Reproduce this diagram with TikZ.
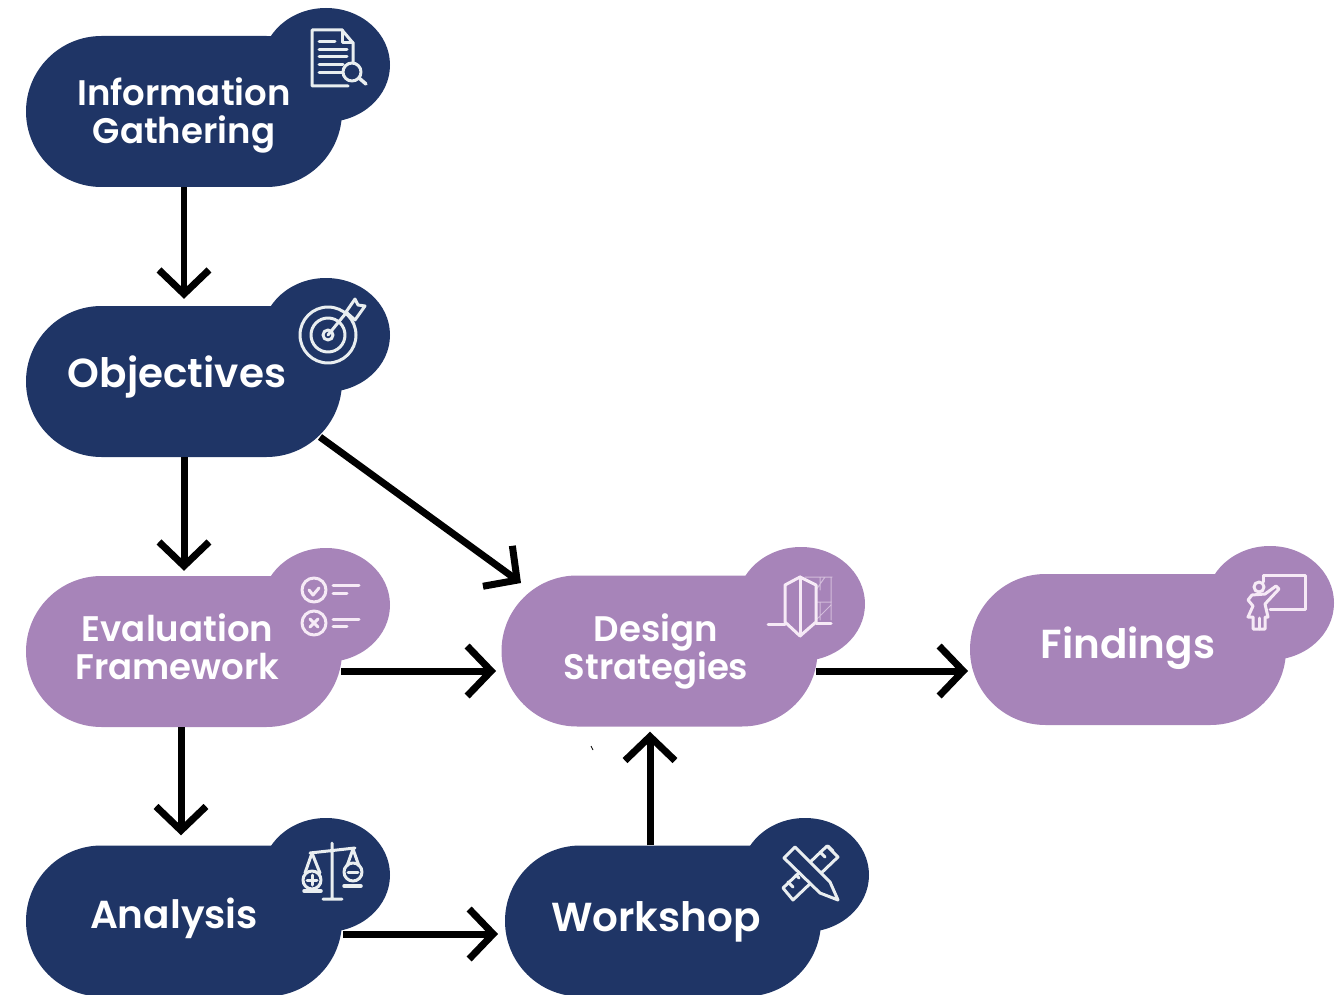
\documentclass[tikz,border=0pt]{standalone}
\usepackage{fontspec}
\setmainfont{Poppins}[BoldFont={Poppins SemiBold}]
\usetikzlibrary{arrows.meta,shapes.misc,shapes.geometric,calc}
\definecolor{navy}{HTML}{1F3566}
\definecolor{plum}{HTML}{A784B9}
\definecolor{iconlight}{HTML}{E9EEF0}
\definecolor{iconpink}{HTML}{F6EAF6}
\tikzset{
  body/.style={rounded rectangle,minimum width=316pt,minimum height=151pt,inner sep=0pt,draw=none},
  lobe/.style={ellipse,minimum width=128pt,minimum height=114pt,inner sep=0pt,draw=none},
  dark/.style={fill=navy},
  light/.style={fill=plum},
  label/.style={text=white,font=\bfseries,align=center,inner sep=0pt},
  small label/.style={label,font=\fontsize{35.5}{38}\selectfont\bfseries},
  large label/.style={label,font=\fontsize{40.5}{44}\selectfont\bfseries},
  mid label/.style={label,font=\fontsize{39}{42}\selectfont\bfseries},
  flow/.style={draw=black,line width=7pt,-{Straight Barb[length=24pt,width=50pt,line width=7pt]}},
  icon/.style={line width=3pt,line join=round,line cap=round},
  faint/.style={line width=1pt,draw=iconpink,opacity=.55},
}
\begin{document}
\begin{tikzpicture}[x=1pt,y=-1pt]
\useasboundingbox (0,0) rectangle (1339,995);
% lobes behind the bodies
\node[lobe,dark]  (infoL) at (326,65) {};
\node[lobe,dark]  (objL)  at (326,335) {};
\node[lobe,light] (evalL) at (326,605) {};
\node[lobe,dark]  (analL) at (326,875) {};
\node[lobe,light] (desL)  at (801,604) {};
\node[lobe,light] (finL)  at (1270,603) {};
\node[lobe,dark]  (workL) at (805,875) {};
% bodies
\node[body,dark]  (info) at (184,111.5) {};
\node[body,dark]  (obj)  at (184,381.5) {};
\node[body,light] (eval) at (184,651.5) {};
\node[body,dark]  (anal) at (184,921) {};
\node[body,light] (des)  at (659.5,651) {};
\node[body,light] (fin)  at (1128,649.5) {};
\node[body,dark]  (work) at (663,921) {};
% labels
\node[small label] (infoT) at (184,115) {Information\\Gathering};
\node[large label] (objT)  at (177,377) {Objectives};
\node[small label] (evalT) at (177.5,647) {Evaluation\\Framework};
\node[mid label] (analT) at (174,918) {Analysis};
\node[small label] (desT)  at (656,651) {Design\\Strategies};
\node[large label] (finT)  at (1128,648) {Findings};
\node[large label] (workT) at (656,922) {Workshop};
% connectors
\draw[flow,line width=6pt,shorten >=7pt] (info.south) -- (obj.north);
\draw[flow,shorten >=5pt] (obj.south) -- (eval.north);
\draw[flow] ($(obj.center)+(136,55.5)$) -- ($(des.center)+(-138.5,-68)$);
\draw[flow] ($(eval.center)+(157,19.5)$) -- ($(des.center)+(-163.5,20)$);
\draw[flow] ($(eval.south)+(-3,0)$) -- ($(anal.north)+(-3,-10)$);
\draw[flow] ($(anal.center)+(159,13)$) -- ($(work.center)+(-165,13)$);
\draw[flow] ($(work.north)+(-13,0)$) -- ($(des.south)+(-9.5,5)$);
\draw[flow] ($(des.center)+(156.5,20)$) -- ($(fin.center)+(-160,21.5)$);
\begin{scope}[icon,draw=iconlight]
% icon: document and magnifier
\draw (348,86) -- (312,86) -- (312,30) -- (342,30) -- (353,43) -- (353,63);
\draw (342,30) -- (342,43) -- (353,43);
\draw (319,42) -- (335,42) (319,50) -- (347,50) (319,57) -- (347,57) (319,65) -- (343,65) (319,73) -- (342,73);
\draw (352,72) circle[radius=9];
\draw[line width=3.5pt] (359,78) -- (366,84);
% icon: target and arrow
\draw (328,335) circle[radius=28] (328,335) circle[radius=17] (328,335) circle[radius=5];
\draw (328,335) -- (346,313);
\draw (346,312) -- (355,299) -- (358,305) -- (365,306) -- (355,320) -- cycle;
% icon: scales
\draw (332,843) -- (332,898) (323,899) -- (342,899) (310,853) -- (355,848);
\draw (312,880) circle[radius=9] (353,872) circle[radius=9];
\draw (305,873) -- (312,853) -- (320,873) (347,866) -- (353,849) -- (359,866);
\draw[line width=3.5pt] (304,891) -- (321,891) (344,886) -- (361,886);
\draw (307,880) -- (317,880) (312,875) -- (312,885) (348,872) -- (358,872);
% icon: ruler and pencil
\draw (783,888) -- (793,900) -- (838,857) -- (827,846) -- cycle;
\draw (788,882) -- (793,887) (796,875) -- (799,878) (820,852) -- (825,857) (828,846) -- (833,851);
\draw[fill=navy] (784,858) -- (795,847) -- (830,882) -- (838,900) -- (820,893) -- cycle;
\end{scope}
\begin{scope}[icon,draw=iconpink]
% icon: check list
\draw (314,590) circle[radius=12] (314,623) circle[radius=12];
\draw (309,590) -- (313,595) -- (319,588);
\draw (310,619) -- (318,627) (318,619) -- (310,627);
\draw (333,585) -- (359,585) (333,593) -- (347,593) (333,619) -- (359,619) (333,626) -- (347,626);
% icon: facade section
\draw (785,585) -- (800,577) -- (816,585) -- (816,622) -- (800,636) -- (785,622) -- cycle;
\draw (800,577) -- (800,636);
\draw (768,624) -- (785,624) (816,623) -- (831,623);
\draw[faint] (831,577) -- (831,620) (805,577) -- (832,577) (820,577) -- (820,590) (825,577) -- (816,590);
\draw[faint] (820,602) -- (820,620) (816,620) -- (831,605) (816,602) -- (831,602);
% icon: presenter at a board
\draw (1270,609) -- (1305,609) -- (1305,575) -- (1263,575) -- (1263,582);
\draw (1259,587) circle[radius=5];
\draw (1276,586) -- (1265,594) -- (1252,595) -- (1248,600) -- (1253,606) -- (1248,617) -- (1253,617) -- (1253,629) -- (1265,629) -- (1265,617) -- (1268,617) -- (1265,604) -- (1279,589) -- cycle;
\draw (1259,618) -- (1259,629);
\end{scope}
\draw[black,line width=.8pt] (591,746) -- (593,750);
\end{tikzpicture}
\end{document}
